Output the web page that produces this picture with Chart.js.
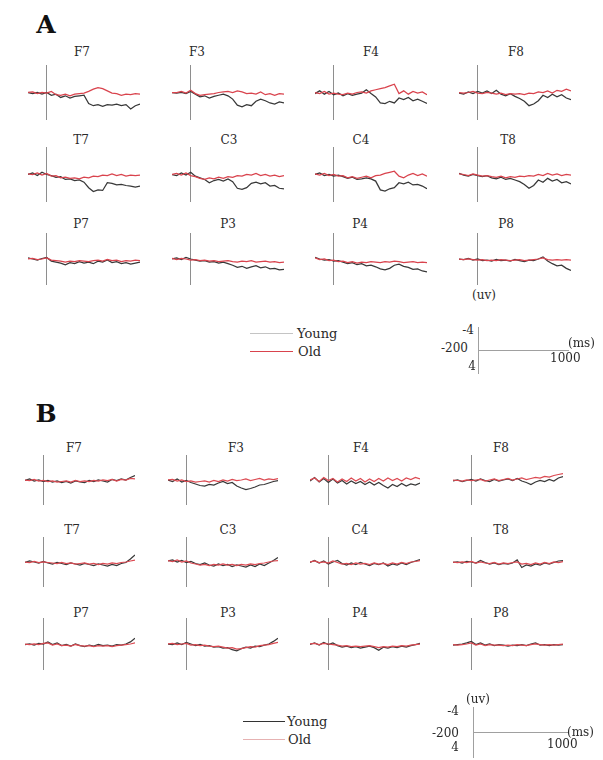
<!DOCTYPE html>
<html><head><meta charset="utf-8">
<script src="https://cdn.jsdelivr.net/npm/chart.js@4/dist/chart.umd.min.js"></script>
<style>
html,body{margin:0;padding:0;background:#fff}
body{width:603px;height:760px;position:relative;overflow:hidden;font-family:"DejaVu Serif",serif;color:#2a2a2a}
.t{position:absolute;white-space:nowrap;line-height:1}
canvas{position:absolute}
.sw{position:absolute;height:1px}
</style></head><body>
<script>
// ---------- DATA ----------
const timesMs = [-200,-150,-100,-50,0,50,100,150,200,250,300,350,400,450,500,550,600,650,700,750,800,850,900,950,1000];
const electrodes = ['F7','F3','F4','F8','T7','C3','C4','T8','P7','P3','P4','P8'];
const groupNames = ['Young','Old'];
const scaleUvLabels = ['-4','4'];
const scaleMsLabels = ['-200','1000'];

// Panel A (uV)
const youngA_F7 = [0,0.2,0,0.3,0,0.5,0.3,0.9,0.6,1.0,0.7,0.6,0.5,2.0,2.4,2.2,2.5,2.2,2.3,2.1,2.4,2.2,3.0,2.4,2.1];
const oldA_F7   = [0,-0.1,0.2,0,0.1,-0.2,0.4,0.5,0.3,0.6,0.3,0.2,0.1,-0.2,-0.6,-0.9,-0.7,-0.3,0.1,0.2,0.5,0.3,0.4,0.2,0.3];
const youngA_F3 = [0,0.1,0,0.2,-0.2,0.3,0.8,0.6,1.0,0.7,0.5,0.3,0.6,1.2,2.3,2.6,2.2,2.4,1.6,1.2,1.5,1.9,2.1,1.7,1.9];
const oldA_F3   = [0,0,-0.2,0.1,-0.4,0.2,0.5,0.4,0.3,0.2,0,-0.1,-0.2,0,-0.3,-0.1,0.2,0.1,0.3,-0.1,0.4,0.2,0.5,0.2,0.3];
const youngA_F4 = [0.2,-0.3,0.3,-0.2,0.4,0.1,0.6,0.2,0.5,0.3,0.1,-0.5,0.2,0.8,1.9,2.0,1.6,1.9,1.0,1.3,0.9,1.5,1.2,1.6,2.0];
const oldA_F4   = [0,0.2,-0.2,0.3,0.1,0.3,0.4,0.1,0.3,0,-0.1,0.1,-0.3,-0.5,-0.7,-0.9,-1.2,-1.5,0.2,-0.3,0.3,-0.2,0.1,-0.1,0.4];
const youngA_F8 = [0.1,0.3,-0.1,0.2,-0.2,0.1,-0.3,0.2,-0.4,0.3,0.6,0.2,0.7,1.1,1.6,2.4,2.1,1.5,0.5,0.9,0.3,0.8,0.4,1.0,1.3];
const oldA_F8   = [0,0.1,0,-0.2,0.1,0.2,0,0.1,0.3,0.1,0.4,0.2,0.3,0.2,0.4,0.1,0.2,-0.1,0,-0.3,0.1,-0.4,-0.2,-0.6,-0.3];
const youngA_T7 = [0,-0.3,0.2,-0.4,0,0.2,0.5,0.4,0.9,0.8,1.1,1.0,1.4,2.4,3.1,2.8,2.9,1.5,1.6,1.9,1.8,2.0,2.1,2.3,2.1];
const oldA_T7   = [-0.1,0,-0.3,0.1,-0.2,0.3,0.2,0.6,0.5,0.7,0.6,0.8,0.5,0.6,0.3,0.4,0.1,0.2,-0.1,0.2,0,0.3,0.1,0.2,0.1];
const youngA_C3 = [0,0.2,-0.3,0.1,-0.4,0.3,0.6,0.9,1.5,1.1,0.9,1.2,0.8,1.3,2.5,2.7,2.4,1.6,1.4,1.7,1.5,2.1,2.0,2.5,2.6];
const oldA_C3   = [0,-0.2,0.1,-0.3,0.2,0.4,0.7,0.9,0.6,0.8,0.5,0.7,0.4,0.5,0.2,0.3,0,0.1,-0.2,0.2,0,0.3,0.1,0.4,0.2];
const youngA_C4 = [0,-0.3,0.2,0,0.3,0.1,0.4,0.7,0.5,0.9,0.8,0.6,0.8,1.2,2.8,3.0,2.6,2.4,1.5,1.7,1.4,1.9,1.8,2.1,2.6];
const oldA_C4   = [-0.1,0.1,-0.2,0.2,0,0.3,0.2,0.6,0.4,0.7,0.5,0.3,0.6,0.2,0.1,-0.2,-0.4,-0.6,0.3,0.6,0.1,-0.2,0.2,-0.1,0.3];
const youngA_T8 = [-0.2,0.1,0.3,0,0.2,0.4,0.2,0.6,0.8,0.5,0.9,0.7,1.0,1.3,1.8,2.5,2.0,1.0,1.4,0.7,1.2,0.9,1.5,1.3,1.7];
const oldA_T8   = [-0.1,0,0.2,-0.1,0.1,0.3,0.2,0.4,0.5,0.3,0.6,0.4,0.5,0.3,0.4,0.2,0.3,0,0.2,-0.2,0.1,-0.1,0.2,0,0.1];
const youngA_P7 = [-0.2,0,0.2,-0.1,-0.3,0.4,0.6,0.8,1.1,0.7,0.9,0.5,0.8,0.6,0.9,0.4,0.6,0.2,0.7,0.5,0.9,0.7,1.0,0.8,0.6];
const oldA_P7   = [0,-0.1,0.1,0,-0.2,0.2,0.3,0.4,0.6,0.4,0.5,0.3,0.4,0.5,0.3,0.2,0.4,0.1,0.3,0.2,0.5,0.3,0.4,0.2,0.3];
const youngA_P3 = [0,-0.2,0.1,-0.3,0,0.2,0.4,0.3,0.6,0.5,0.8,0.6,0.9,1.2,1.6,1.4,1.8,1.5,1.3,1.7,1.5,1.9,1.8,2.1,2.0];
const oldA_P3   = [-0.1,0.1,-0.1,0,0.2,0.1,0.3,0.2,0.4,0.3,0.5,0.4,0.3,0.5,0.6,0.4,0.5,0.3,0.6,0.5,0.4,0.6,0.5,0.7,0.6];
const youngA_P4 = [-0.3,0,0.2,0.1,0.4,0.3,0.6,0.9,0.7,1.1,0.9,1.3,1.2,1.5,1.9,2.1,1.8,1.2,1.0,1.4,1.6,2.0,1.9,2.3,2.5];
const oldA_P4   = [-0.2,0.1,0,0.3,0.2,0.5,0.4,0.7,0.5,0.8,0.6,0.7,0.5,0.6,0.7,0.5,0.6,0.4,0.5,0.7,0.6,0.5,0.7,0.6,0.7];
const youngA_P8 = [0,0.1,-0.1,0.2,0,0.3,0.2,0.4,0.1,0.3,0.2,0.4,0.1,0.3,0.5,0.2,0.3,0,-0.4,0.4,0.9,1.3,1.2,1.8,2.2];
const oldA_P8   = [0,0.1,0,0.1,0.2,0.1,0.3,0.2,0.3,0.1,0.2,0.3,0.2,0.1,0.3,0.2,0.1,0,-0.2,0.1,0.2,0.1,0.2,0.1,0.2];

// Panel B (uV)
const youngB_F7 = [0.1,-0.2,0.2,0,0.3,0.1,0.4,0.2,0.5,0.3,0.6,0.2,0.4,0.5,0.1,0.3,0,0.2,0.4,-0.1,0.1,-0.2,0,-0.5,-0.9];
const oldB_F7   = [0,0.1,-0.1,0.2,0.1,0.3,0.2,0.4,0.3,0.2,0.4,0.1,0.3,0.2,0.3,0.1,0.2,0,0.1,-0.1,0.2,-0.1,0,-0.3,-0.2];
const youngB_F3 = [0,0.3,-0.2,0.4,0.1,0.5,0.8,1.1,1.2,0.9,1.0,0.6,0.3,0.7,0.5,1.2,1.6,1.9,1.7,1.4,1.0,0.9,0.6,0.3,0.1];
const oldB_F3   = [0,-0.1,0.2,0,0.3,0.2,0.4,0.3,0.2,0.4,0.1,0.3,0,0.2,-0.1,0.1,0,-0.2,0.1,-0.1,-0.3,0,-0.2,-0.1,-0.3];
const youngB_F4 = [0.2,-0.5,0.4,-0.3,0.5,-0.2,0.6,0.1,0.8,0.2,0.7,0.3,0.9,0.4,1.0,0.5,1.1,1.6,0.9,1.3,0.7,1.2,0.8,1.0,0.6];
const oldB_F4   = [0,-0.4,0.3,-0.5,0.1,-0.3,0.4,-0.2,0.3,-0.4,0.2,-0.3,0.4,-0.2,0.3,-0.3,0.2,-0.4,0.1,-0.3,0.2,-0.4,-0.1,-0.5,-0.2];
const youngB_F8 = [0.2,0,0.3,0.1,-0.1,0.2,-0.2,0.1,0.3,-0.1,0.2,0,-0.2,0.1,-0.3,0.2,0.5,0.9,0.4,0.1,0.3,-0.1,0.2,-0.4,-0.7];
const oldB_F8   = [0,0.1,0.2,0,0.1,0,-0.1,0.2,0,-0.2,0.1,-0.1,-0.3,0,-0.2,-0.4,-0.1,-0.3,-0.5,-0.4,-0.7,-0.6,-0.9,-1.1,-1.3];
const youngB_T7 = [0.1,-0.2,0,0.2,-0.1,0.2,0.4,0.1,0.3,0.5,0.2,0.4,0.6,0.3,0.5,0.7,0.4,0.6,0.8,0.5,0.7,0.3,0.1,-0.6,-1.4];
const oldB_T7   = [0,0.1,-0.1,0.1,0,0.1,0.2,0.3,0.1,0.3,0.2,0.4,0.3,0.2,0.4,0.3,0.5,0.3,0.4,0.2,0.3,0.1,0,-0.2,-0.4];
const youngB_C3 = [-0.2,-0.4,0,-0.3,0.1,-0.1,0.3,0.5,0.2,0.6,0.8,0.4,0.7,0.5,0.9,0.6,0.8,1.0,0.6,0.9,0.4,0.7,0.2,-0.3,-0.9];
const oldB_C3   = [-0.3,-0.1,-0.4,0,-0.2,0.2,0.4,0.6,0.5,0.7,0.5,0.6,0.4,0.6,0.5,0.7,0.5,0.6,0.4,0.5,0.3,0.2,0,-0.2,-0.3];
const youngB_C4 = [0.1,-0.3,0.2,-0.2,0.4,0,-0.3,0.3,0.6,0.2,0.5,0.1,0.4,0.7,0.3,0.5,0.2,0.8,0.4,0.6,0.2,0.5,0.1,-0.2,-0.5];
const oldB_C4   = [0,-0.2,0.1,0,0.2,-0.2,0.1,0.4,0.3,0.5,0.2,0.4,0.3,0.5,0.2,0.4,0.3,0.5,0.2,0.4,0.1,0.3,0,-0.1,-0.3];
const youngB_T8 = [0.1,0,0.2,-0.1,0,0.2,-0.3,0.1,0.4,0.2,0.5,0.3,0.4,0.2,-0.4,1.1,0.6,0.8,0.4,0.6,0.2,0.4,0.1,-0.2,-0.3];
const oldB_T8   = [0,0.1,0,0.1,-0.1,0.2,0,0.2,0.3,0.1,0.4,0.2,0.3,0.1,0,0.4,0.3,0.5,0.2,0.4,0.1,0.3,0,0.1,-0.1];
const youngB_P7 = [0.1,0,0.2,-0.1,0,-0.4,0.1,-0.2,0.3,0.1,0.4,0,0.3,0.5,0.2,0.4,0.1,0.3,0.2,0.4,0.1,0.2,0,-0.4,-1.1];
const oldB_P7   = [0,0.1,0,0.1,-0.1,-0.2,0.2,0,0.3,0.2,0.4,0.1,0.3,0.4,0.3,0.5,0.3,0.4,0.3,0.5,0.3,0.2,0.1,0,-0.2];
const youngB_P3 = [0,0.1,-0.2,0.1,-0.3,0,0.3,0.1,0.4,0.3,0.6,0.5,0.8,0.7,1.1,1.3,0.9,0.6,0.8,0.4,0.5,0.2,0,-0.5,-1.1];
const oldB_P3   = [0,-0.1,0.1,0,-0.1,0.2,0.1,0.3,0.2,0.4,0.5,0.4,0.6,0.8,0.7,1.0,0.9,0.7,0.5,0.6,0.3,0.2,0.1,-0.1,-0.3];
const youngB_P4 = [0.1,-0.2,0.2,-0.3,0.1,-0.2,0.3,0.6,0.4,0.7,0.5,0.8,0.6,0.4,0.7,1.2,0.6,0.8,0.5,0.7,0.4,0.6,0.3,0.1,-0.1];
const oldB_P4   = [0,-0.1,0.1,-0.1,0,0.1,0.2,0.4,0.3,0.5,0.4,0.5,0.4,0.3,0.5,0.7,0.5,0.6,0.4,0.5,0.3,0.4,0.2,0.1,0];
const youngB_P8 = [0.2,0.1,0,-0.2,-0.5,0.1,-0.2,0.2,0,0.3,0.1,0.2,0.4,0.2,0.3,0.1,0.3,0,-0.2,0.2,0.1,0.3,0.1,0.2,0.1];
const oldB_P8   = [0.1,0.2,0.1,0,-0.2,0.2,0,0.3,0.1,0.2,0.2,0.3,0.2,0.3,0.1,0.2,0.3,0.1,0,0.1,0.2,0.1,0.2,0.1,0];

const youngA = [youngA_F7,youngA_F3,youngA_F4,youngA_F8,youngA_T7,youngA_C3,youngA_C4,youngA_T8,youngA_P7,youngA_P3,youngA_P4,youngA_P8];
const oldA   = [oldA_F7,oldA_F3,oldA_F4,oldA_F8,oldA_T7,oldA_C3,oldA_C4,oldA_T8,oldA_P7,oldA_P3,oldA_P4,oldA_P8];
const youngB = [youngB_F7,youngB_F3,youngB_F4,youngB_F8,youngB_T7,youngB_C3,youngB_C4,youngB_T8,youngB_P7,youngB_P3,youngB_P4,youngB_P8];
const oldB   = [oldB_F7,oldB_F3,oldB_F4,oldB_F8,oldB_T7,oldB_C3,oldB_C4,oldB_T8,oldB_P7,oldB_P3,oldB_P4,oldB_P8];

// ---------- LAYOUT / STYLE ----------
const panelA = {letter:'A', letterX:46, letterY:24,
  colX:[28,172,315,459], width:112, rowTop:[65,147,233], rowH:[55,55,52],
  labX:[[82,197,371,516],[81,229,361,508],[81,228,360,506]], labY:[52,140,224],
  young:youngA, old:oldA, youngColor:'#383838', oldColor:'#d9434d'};
const panelB = {letter:'B', letterX:46, letterY:413,
  colX:[25,168,310,453], width:110, rowTop:[455,537,618], rowH:[50,50,52],
  labX:[[74,236,361,501],[72,228,360,501],[81,228,360,501]], labY:[448,530,613],
  young:youngB, old:oldB, youngColor:'#383838', oldColor:'#dc4a52'};

function addText(str, x, y, opt) {
  opt = opt || {};
  const d = document.createElement('div');
  d.className = 't';
  d.textContent = str;
  d.style.left = x + 'px';
  d.style.top = y + 'px';
  d.style.fontSize = (opt.size || 12) + 'px';
  if (opt.bold) d.style.fontWeight = 'bold';
  if (opt.color) d.style.color = opt.color;
  const ax = opt.align === 'right' ? '-100%' : (opt.align === 'left' ? '0' : '-50%');
  d.style.transform = 'translate(' + ax + ',-50%)';
  document.body.appendChild(d);
}

function addSwatch(x1, x2, y, color) {
  const d = document.createElement('div');
  d.className = 'sw';
  d.style.left = x1 + 'px';
  d.style.top = y + 'px';
  d.style.width = (x2 - x1) + 'px';
  d.style.background = color;
  document.body.appendChild(d);
}

function toPoints(arr) { return timesMs.map((t, i) => ({x: t, y: arr[i]})); }

function makePlot(left, top, w, h, young, old, yc, oc) {
  const c = document.createElement('canvas');
  c.width = w; c.height = h;
  c.style.left = left + 'px'; c.style.top = top + 'px';
  document.body.appendChild(c);
  new Chart(c, {
    type: 'line',
    data: {datasets: [
      {label: groupNames[1], data: toPoints(old), borderColor: oc, borderWidth: 1.25, pointRadius: 0, tension: 0, clip: false, order: 0},
      {label: groupNames[0], data: toPoints(young), borderColor: yc, borderWidth: 1.25, pointRadius: 0, tension: 0, clip: false, order: 1}
    ]},
    options: {
      responsive: false, animation: false, events: [],
      layout: {padding: 0},
      plugins: {legend: {display: false}, tooltip: {enabled: false}},
      scales: {
        x: {type: 'linear', min: -200, max: 1000, display: false},
        y: {type: 'linear', min: -5, max: 5, reverse: true, position: {x: 0},
            ticks: {display: false}, grid: {display: false, drawTicks: false},
            border: {display: true, color: '#8e8e8e', width: 1}}
      }
    }
  });
}

function makeScaleBar(x0, yTop, w, h, color) {
  const pad = 2;
  const c = document.createElement('canvas');
  c.width = w + 2 * pad; c.height = h + 2 * pad;
  c.style.left = (x0 - pad) + 'px'; c.style.top = (yTop - pad) + 'px';
  document.body.appendChild(c);
  new Chart(c, {
    type: 'line',
    data: {datasets: []},
    options: {
      responsive: false, animation: false, events: [],
      layout: {padding: pad},
      plugins: {legend: {display: false}, tooltip: {enabled: false}},
      scales: {
        x: {type: 'linear', min: Number(scaleMsLabels[0]), max: Number(scaleMsLabels[1]), position: {y: 0},
            ticks: {display: false}, grid: {display: false, drawTicks: false},
            border: {display: true, color: color, width: 1}},
        y: {type: 'linear', min: Number(scaleUvLabels[0]), max: Number(scaleUvLabels[1]), reverse: true,
            position: {x: Number(scaleMsLabels[0])},
            ticks: {display: false}, grid: {display: false, drawTicks: false},
            border: {display: true, color: color, width: 1}}
      }
    }
  });
}

function drawPanel(p) {
  addText(p.letter, p.letterX, p.letterY, {size: 25, bold: true, color: '#111'});
  for (let r = 0; r < 3; r++) {
    for (let col = 0; col < 4; col++) {
      const k = r * 4 + col;
      addText(electrodes[k], p.labX[r][col], p.labY[r], {size: 12, color: '#2a2a2a'});
      makePlot(p.colX[col], p.rowTop[r], p.width, p.rowH[r], p.young[k], p.old[k], p.youngColor, p.oldColor);
    }
  }
}

drawPanel(panelA);
drawPanel(panelB);

// Panel A legend + scale
addSwatch(250, 293, 333, '#c4c4c4');
addText(groupNames[0], 297, 333, {size: 13, align: 'left'});
addSwatch(250, 293, 351, '#d9434d');
addText(groupNames[1], 298, 351, {size: 13, align: 'left'});
makeScaleBar(478, 327, 90, 46, '#a0a0a0');
addText('(uv)', 484, 295, {size: 12});
addText(scaleUvLabels[0], 474, 330, {size: 12, align: 'right'});
addText(scaleMsLabels[0], 468, 348, {size: 12, align: 'right'});
addText(scaleUvLabels[1], 476, 366, {size: 12, align: 'right'});
addText('(ms)', 568, 343, {size: 12, align: 'left'});
addText(scaleMsLabels[1], 550, 358, {size: 12, align: 'left'});

// Panel B legend + scale
addSwatch(243, 285, 721, '#333333');
addText(groupNames[0], 287, 721, {size: 13, align: 'left'});
addSwatch(243, 285, 739, '#e6b2b2');
addText(groupNames[1], 288, 739, {size: 13, align: 'left'});
makeScaleBar(473, 707, 94, 50, '#a0a0a0');
addText('(uv)', 478, 699, {size: 12});
addText(scaleUvLabels[0], 459, 711, {size: 12, align: 'right'});
addText(scaleMsLabels[0], 459, 733, {size: 12, align: 'right'});
addText(scaleUvLabels[1], 459, 747, {size: 12, align: 'right'});
addText('(ms)', 567, 732, {size: 12, align: 'left'});
addText(scaleMsLabels[1], 547, 744, {size: 12, align: 'left'});
</script>
</body></html>
